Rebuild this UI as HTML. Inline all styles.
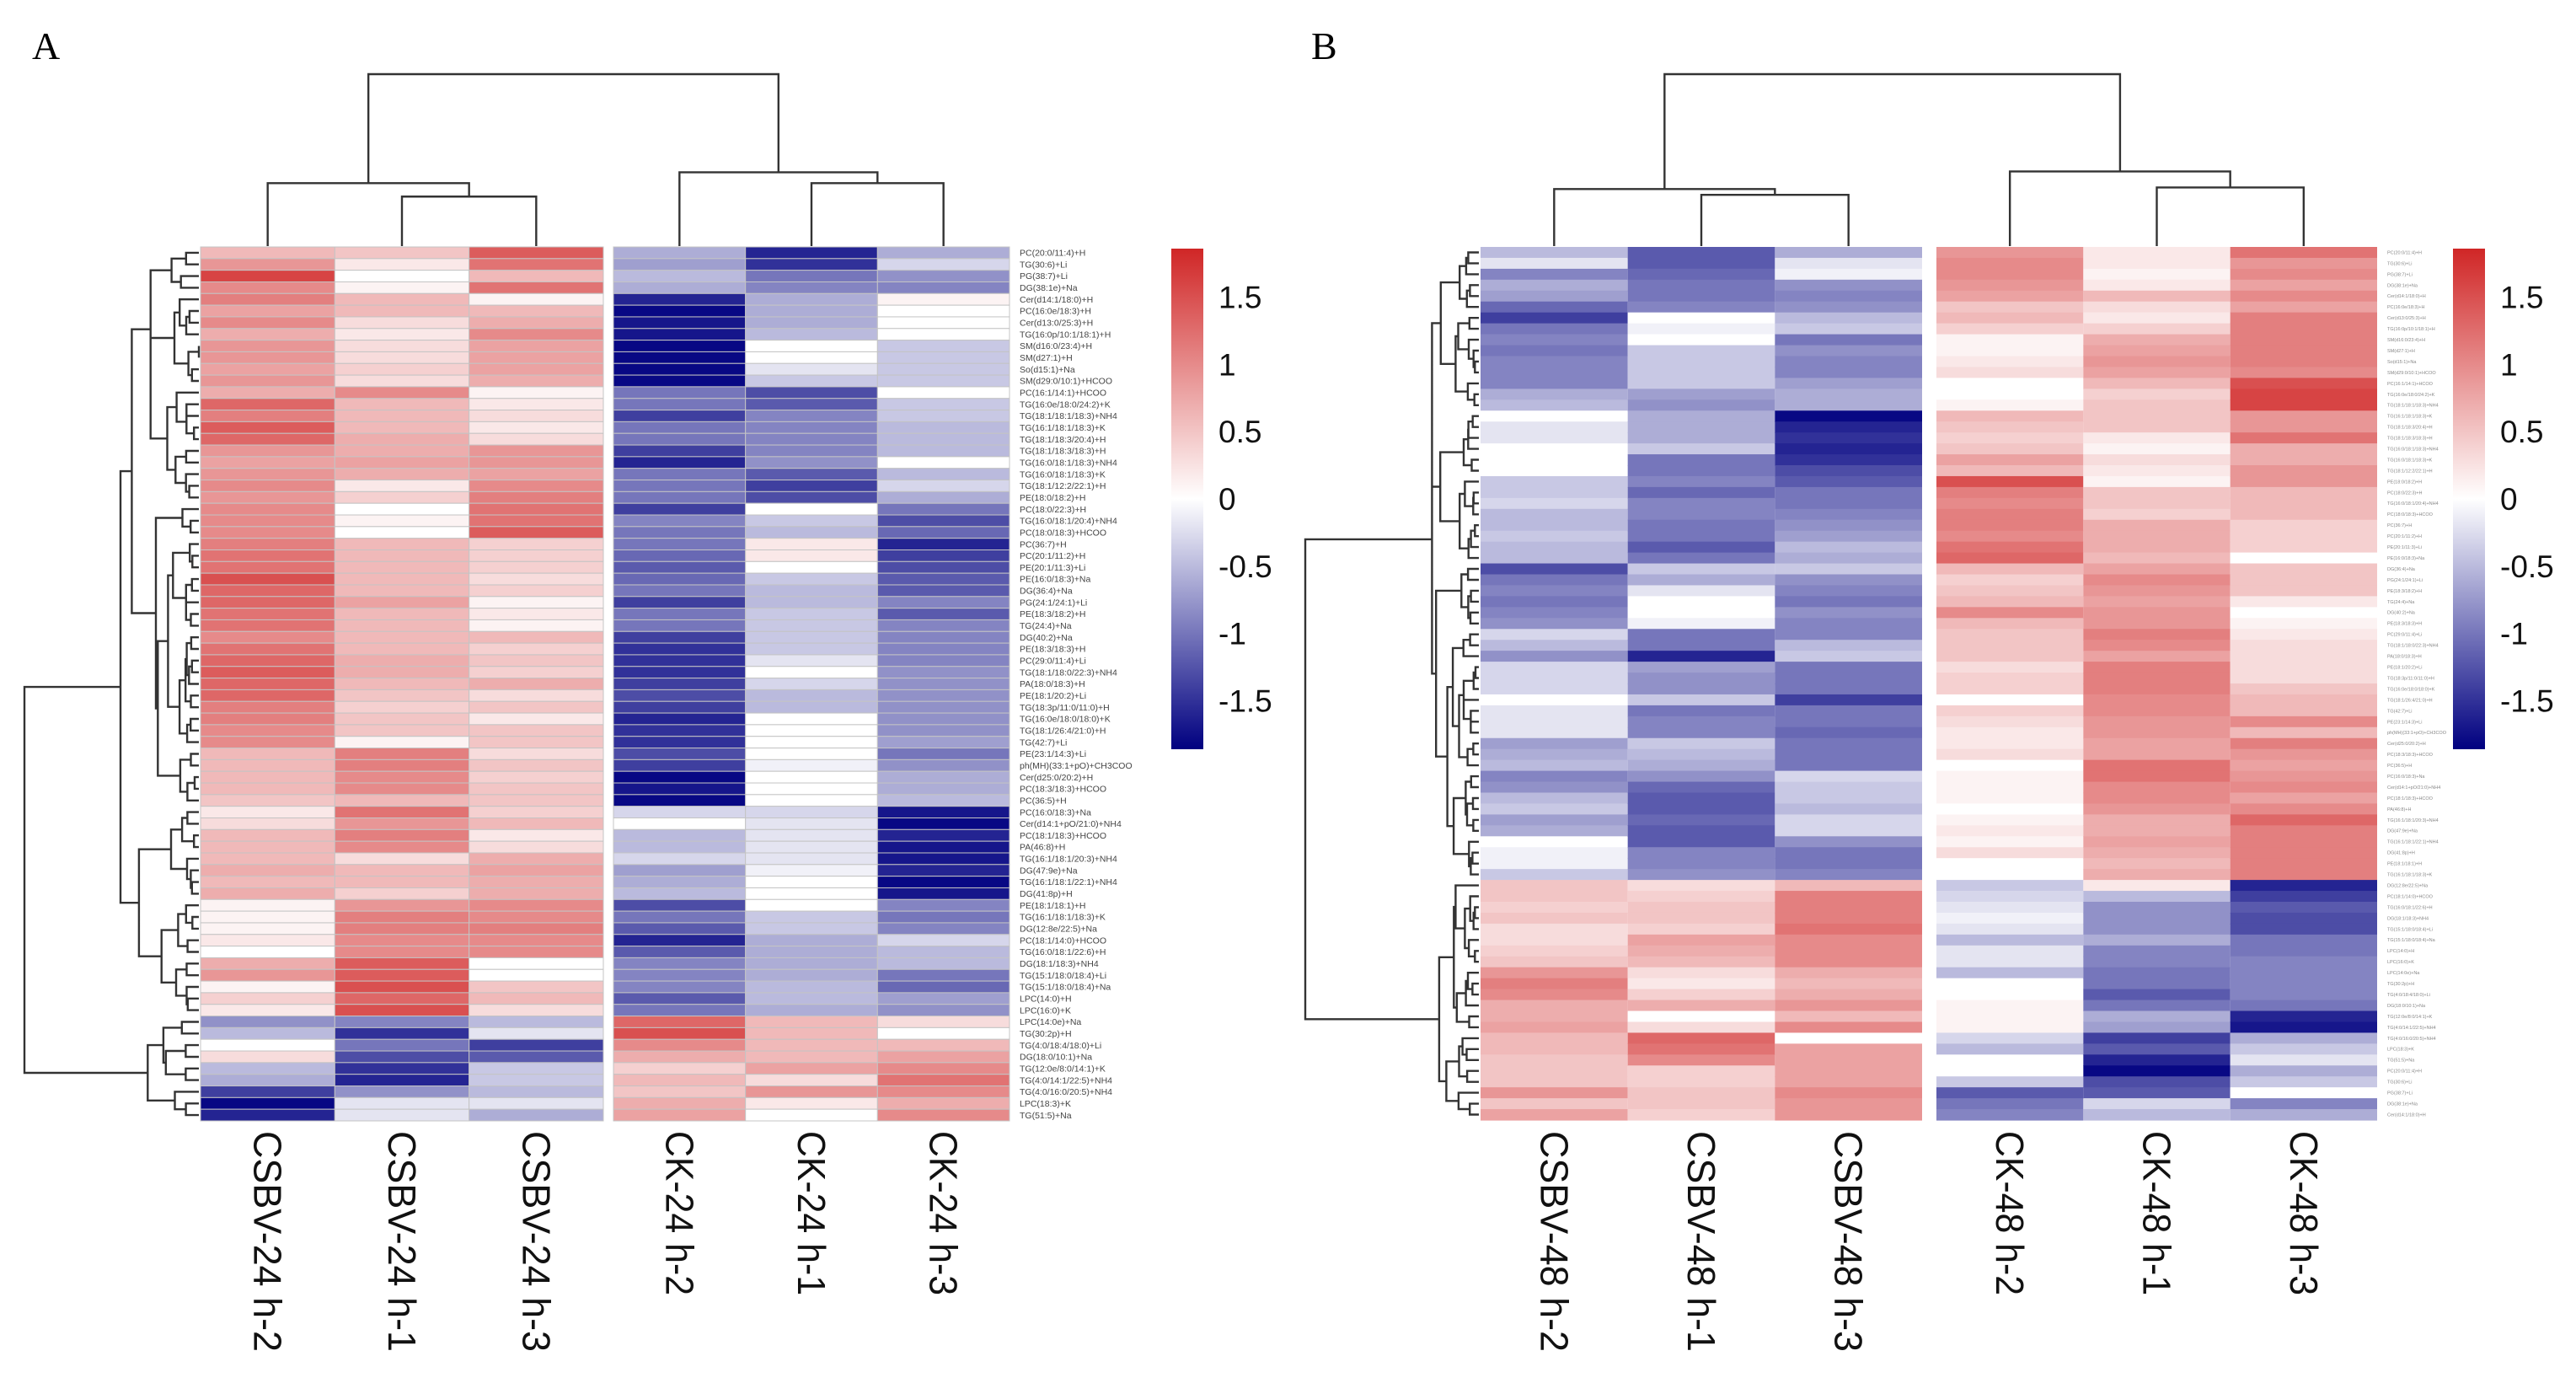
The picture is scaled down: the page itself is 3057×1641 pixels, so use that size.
<!DOCTYPE html>
<html><head><meta charset="utf-8"><style>
html,body{margin:0;padding:0;background:#fff;}
svg{display:block;}
</style></head><body>
<svg id="fig" width="3057" height="1641" viewBox="0 0 3057 1641" xmlns="http://www.w3.org/2000/svg" font-family="Liberation Sans, sans-serif">
<rect x="0" y="0" width="3057" height="1641" fill="#fff"/>
<text x="38" y="70" font-family="Liberation Serif, serif" font-size="46">A</text>
<text x="1556" y="70" font-family="Liberation Serif, serif" font-size="46">B</text>
<g id="pa"></g>
<g id="pb"></g>
</svg>
<script>
// ---------- Panel A data (z-scores, columns in displayed order) ----------
const colsA = ["CSBV-24 h-2","CSBV-24 h-1","CSBV-24 h-3","CK-24 h-2","CK-24 h-1","CK-24 h-3"];
const rowsA = ["PC(20:0/11:4)+H","TG(30:6)+Li","PG(38:7)+Li","DG(38:1e)+Na","Cer(d14:1/18:0)+H","PC(16:0e/18:3)+H","Cer(d13:0/25:3)+H","TG(16:0p/10:1/18:1)+H","SM(d16:0/23:4)+H","SM(d27:1)+H","So(d15:1)+Na","SM(d29:0/10:1)+HCOO","PC(16:1/14:1)+HCOO","TG(16:0e/18:0/24:2)+K","TG(18:1/18:1/18:3)+NH4","TG(16:1/18:1/18:3)+K","TG(18:1/18:3/20:4)+H","TG(18:1/18:3/18:3)+H","TG(16:0/18:1/18:3)+NH4","TG(16:0/18:1/18:3)+K","TG(18:1/12:2/22:1)+H","PE(18:0/18:2)+H","PC(18:0/22:3)+H","TG(16:0/18:1/20:4)+NH4","PC(18:0/18:3)+HCOO","PC(36:7)+H","PC(20:1/11:2)+H","PE(20:1/11:3)+Li","PE(16:0/18:3)+Na","DG(36:4)+Na","PG(24:1/24:1)+Li","PE(18:3/18:2)+H","TG(24:4)+Na","DG(40:2)+Na","PE(18:3/18:3)+H","PC(29:0/11:4)+Li","TG(18:1/18:0/22:3)+NH4","PA(18:0/18:3)+H","PE(18:1/20:2)+Li","TG(18:3p/11:0/11:0)+H","TG(16:0e/18:0/18:0)+K","TG(18:1/26:4/21:0)+H","TG(42:7)+Li","PE(23:1/14:3)+Li","ph(MH)(33:1+pO)+CH3COO","Cer(d25:0/20:2)+H","PC(18:3/18:3)+HCOO","PC(36:5)+H","PC(16:0/18:3)+Na","Cer(d14:1+pO/21:0)+NH4","PC(18:1/18:3)+HCOO","PA(46:8)+H","TG(16:1/18:1/20:3)+NH4","DG(47:9e)+Na","TG(16:1/18:1/22:1)+NH4","DG(41:8p)+H","PE(18:1/18:1)+H","TG(16:1/18:1/18:3)+K","DG(12:8e/22:5)+Na","PC(18:1/14:0)+HCOO","TG(16:0/18:1/22:6)+H","DG(18:1/18:3)+NH4","TG(15:1/18:0/18:4)+Li","TG(15:1/18:0/18:4)+Na","LPC(14:0)+H","LPC(16:0)+K","LPC(14:0e)+Na","TG(30:2p)+H","TG(4:0/18:4/18:0)+Li","DG(18:0/10:1)+Na","TG(12:0e/8:0/14:1)+K","TG(4:0/14:1/22:5)+NH4","TG(4:0/16:0/20:5)+NH4","LPC(18:3)+K","TG(51:5)+Na"];
const a_csbv2 = [0.6,0.9,1.6,1.0,1.1,0.8,1.0,0.7,0.9,0.9,0.8,0.9,0.7,1.3,1.1,1.4,1.3,0.9,0.8,0.9,1.0,0.9,1.0,1.0,1.0,1.1,1.2,1.2,1.5,1.3,1.3,1.2,1.2,1.0,1.2,1.3,1.4,1.3,1.3,1.1,1.1,1.0,1.0,0.6,0.6,0.6,0.6,0.5,0.2,0.3,0.6,0.6,0.6,0.7,0.6,0.7,0.1,0.1,0.1,0.2,0.0,0.7,0.9,0.1,0.4,0.2,-0.8,-0.5,0.0,0.3,-0.5,-0.6,-1.4,-1.8,-1.6];
const a_csbv1 = [0.5,0.2,0.0,0.1,0.6,0.6,0.3,0.2,0.3,0.3,0.4,0.3,1.0,0.6,0.6,0.6,0.7,0.7,0.8,0.7,0.2,0.4,0.0,0.1,0.0,0.6,0.6,0.6,0.6,0.6,0.8,0.6,0.6,0.6,0.6,0.7,0.7,0.6,0.5,0.4,0.5,0.5,0.1,1.1,1.1,1.0,1.0,0.6,1.2,0.9,1.1,1.0,0.3,0.6,0.6,0.4,0.9,1.1,1.1,1.0,1.0,1.4,1.4,1.5,1.3,1.5,-0.9,-1.5,-1.0,-1.3,-1.5,-1.6,-0.8,-0.2,-0.2];
const a_csbv3 = [1.4,1.2,0.6,1.2,0.1,0.6,0.7,1.0,0.8,0.8,0.8,0.7,0.1,0.2,0.3,0.2,0.3,0.9,0.9,0.8,1.0,1.1,1.2,1.2,1.4,0.4,0.4,0.4,0.3,0.4,0.1,0.2,0.1,0.6,0.4,0.5,0.4,0.7,0.3,0.5,0.2,0.5,0.5,0.3,0.5,0.4,0.5,0.5,0.4,0.6,0.2,0.3,0.7,0.8,0.7,0.7,1.0,1.0,1.1,1.0,1.0,0.0,0.0,0.5,0.6,0.3,-0.5,-0.2,-1.4,-1.2,-0.4,-0.4,-0.5,-0.2,-0.6];
const a_ck2 = [-0.6,-0.7,-0.5,-0.6,-1.6,-1.8,-1.7,-1.7,-1.8,-1.8,-1.8,-1.8,-1.0,-1.0,-1.4,-1.0,-1.0,-1.4,-1.6,-1.0,-1.0,-1.0,-1.4,-0.9,-1.0,-1.0,-1.1,-1.2,-1.1,-1.0,-1.4,-1.0,-1.0,-1.4,-1.5,-1.5,-1.5,-1.4,-1.3,-1.4,-1.6,-1.5,-1.5,-1.3,-1.4,-1.8,-1.7,-1.8,-0.3,0.0,-0.5,-0.5,-0.3,-0.7,-0.6,-0.5,-1.3,-1.0,-1.2,-1.6,-1.2,-0.9,-0.9,-0.9,-1.2,-1.0,1.3,1.5,1.0,0.7,0.4,0.6,0.5,0.7,0.8];
const a_ck1 = [-1.6,-1.5,-1.0,-0.9,-0.6,-0.6,-0.6,-0.5,0.0,0.0,-0.2,-0.4,-1.3,-1.2,-0.9,-0.9,-0.9,-0.9,-0.8,-1.2,-1.4,-1.3,0.0,-0.4,-0.5,0.2,0.2,0.0,-0.4,-0.5,-0.5,-0.4,-0.4,-0.4,-0.4,-0.2,0.0,-0.3,-0.5,-0.5,0.0,0.0,0.0,0.0,-0.1,0.0,0.0,0.0,-0.3,-0.2,-0.2,-0.2,-0.2,-0.1,0.0,0.0,0.0,-0.4,-0.4,-0.6,-0.6,-0.6,-0.6,-0.5,-0.5,-0.6,0.6,0.6,0.6,0.6,0.8,0.3,0.9,0.2,0.0];
const a_ck3 = [-0.6,-0.3,-0.8,-0.9,0.1,0.0,0.0,0.0,-0.4,-0.4,-0.4,-0.4,0.0,-0.4,-0.4,-0.5,-0.5,-0.5,0.0,-0.5,-0.3,-0.6,-1.0,-1.3,-1.1,-1.6,-1.4,-1.3,-1.2,-1.2,-0.9,-1.2,-0.9,-0.9,-0.9,-0.9,-0.8,-0.8,-0.8,-0.8,-0.8,-0.8,-0.7,-1.0,-0.8,-0.6,-0.6,-0.5,-1.7,-1.8,-1.6,-1.7,-1.7,-1.6,-1.8,-1.7,-0.9,-1.0,-0.9,-0.3,-0.5,-0.5,-1.0,-1.1,-0.7,-0.8,0.3,0.0,0.6,0.8,1.0,1.2,1.0,0.7,1.0];
// column dendrogram merge heights (relative)
const colTreeA = [0.288, 0.366, 0.366, 0.429, 1.0]; // leftSub, left, rightSub, right, root

// ---------- Panel B data ----------
const colsB = ["CSBV-48 h-2","CSBV-48 h-1","CSBV-48 h-3","CK-48 h-2","CK-48 h-1","CK-48 h-3"];
const b_csbv2 = [-0.5,-0.2,-0.9,-0.6,-0.7,-1.1,-1.4,-1.0,-0.9,-1.0,-0.9,-0.9,-0.9,-0.6,-0.5,0.0,-0.2,-0.2,0.0,0.0,0.0,-0.4,-0.4,-0.3,-0.5,-0.5,-0.4,-0.5,-0.5,-1.3,-1.0,-0.9,-1.0,-0.9,-0.8,-0.3,-0.5,-0.8,-0.3,-0.3,-0.3,0.0,-0.2,-0.2,-0.2,-0.7,-0.6,-0.5,-0.9,-0.8,-0.5,-0.4,-0.7,-0.6,0.0,-0.1,-0.1,-0.4,0.5,0.5,0.4,0.5,0.3,0.3,0.4,0.5,0.9,1.1,1.0,0.7,0.7,0.8,0.6,0.6,0.5,0.5,0.5,0.9,0.5,0.8];
const b_csbv1 = [-1.2,-1.2,-1.1,-1.0,-1.0,-0.9,0.0,-0.1,0.0,-0.4,-0.4,-0.4,-0.4,-0.7,-0.8,-0.6,-0.6,-0.6,-0.4,-1.0,-1.0,-0.9,-1.1,-0.9,-0.9,-1.0,-1.0,-1.2,-1.0,-0.4,-0.6,-0.2,0.0,0.0,-0.1,-1.0,-1.0,-1.6,-0.7,-0.8,-0.8,-0.4,-1.0,-0.9,-0.9,-0.4,-0.5,-0.6,-0.8,-1.1,-1.2,-1.2,-1.1,-1.2,-1.2,-0.9,-0.9,-0.8,0.3,0.4,0.5,0.5,0.4,0.8,0.7,0.6,0.3,0.2,0.4,0.7,0.0,0.3,1.3,1.2,1.0,0.4,0.4,0.5,0.5,0.4];
const b_csbv3 = [-0.6,-0.2,-0.1,-0.8,-0.9,-0.8,-0.5,-0.4,-1.0,-0.8,-0.9,-0.9,-0.7,-0.6,-0.6,-1.8,-1.6,-1.5,-1.6,-1.5,-1.3,-1.2,-1.0,-1.0,-0.9,-0.8,-0.7,-0.5,-0.6,-0.4,-0.8,-0.9,-1.0,-0.8,-0.9,-0.9,-0.5,-0.4,-1.0,-1.0,-1.0,-1.4,-1.0,-1.0,-1.1,-1.0,-1.0,-1.0,-0.3,-0.4,-0.4,-0.5,-0.3,-0.3,-0.8,-1.0,-1.0,-0.9,0.6,1.1,1.1,1.1,1.2,1.0,1.0,1.0,0.7,0.6,0.7,0.9,0.6,1.0,0.0,0.8,0.8,0.8,0.8,1.0,0.9,0.9];
const b_ck2 = [0.9,1.0,1.0,0.9,0.8,0.5,0.6,0.4,0.1,0.1,0.2,0.3,0.0,0.0,0.1,0.6,0.5,0.4,0.5,0.8,0.6,1.5,1.1,1.0,1.1,1.1,1.0,1.2,1.3,0.6,0.4,0.5,0.6,1.0,0.6,0.5,0.5,0.5,0.3,0.4,0.4,0.0,0.4,0.3,0.2,0.2,0.3,0.0,0.1,0.1,0.1,0.0,0.1,0.2,0.1,0.3,0.0,0.0,-0.4,-0.3,-0.2,-0.1,-0.2,-0.5,-0.2,-0.2,-0.5,0.0,0.0,0.1,0.1,0.1,-0.3,-0.5,0.0,0.0,-0.4,-1.2,-1.0,-0.9];
const b_ck1 = [0.2,0.2,0.1,0.2,0.6,0.3,0.2,0.4,0.7,0.8,0.9,0.8,0.6,0.4,0.5,0.5,0.5,0.2,0.1,0.3,0.2,0.1,0.5,0.5,0.4,0.7,0.7,0.7,0.6,0.8,1.0,0.9,0.8,0.9,0.9,1.1,1.0,0.8,1.1,1.1,1.1,1.0,1.0,0.9,0.9,0.8,0.8,1.2,1.2,1.0,1.0,0.9,0.7,0.7,0.8,0.7,0.6,0.7,0.2,-0.5,-0.8,-0.8,-0.8,-0.6,-0.9,-0.9,-1.0,-1.0,-1.2,-1.0,-0.6,-0.7,-1.4,-1.2,-1.6,-1.8,-1.3,-1.2,-0.3,-0.5];
const b_ck3 = [1.2,0.9,1.0,0.8,1.0,0.8,1.1,1.1,1.1,1.1,1.1,1.0,1.5,1.6,1.6,0.9,0.9,1.2,0.7,0.7,0.9,0.9,0.6,0.6,0.6,0.4,0.4,0.4,0.0,0.5,0.5,0.5,0.2,0.0,0.1,0.2,0.3,0.3,0.3,0.3,0.5,0.6,0.6,1.0,0.6,1.1,0.9,0.8,0.9,1.0,0.8,1.0,1.3,1.1,1.1,1.1,1.1,1.1,-1.6,-1.4,-1.2,-1.3,-1.3,-1.0,-1.0,-0.9,-0.9,-0.9,-0.9,-1.0,-1.6,-1.7,-0.6,-0.4,-0.2,-0.6,-0.4,0.0,-0.9,-0.6];
const colTreeB = [0.298, 0.332, 0.341, 0.434, 1.0];
const legendTicks = [1.5, 1, 0.5, 0, -0.5, -1, -1.5];
const legendMax = 1.86;

// ---------- drawing ----------
const NS = "http://www.w3.org/2000/svg";
function mk(tag, attrs, parent){ const e=document.createElementNS(NS,tag); for(const k in attrs) e.setAttribute(k,attrs[k]); parent.appendChild(e); return e; }
const lo=[0,0,128], mid=[255,255,255], hi=[208,38,38];
function color(v){
  let t=Math.max(-1,Math.min(1,v/legendMax));
  const a=t<0?lo:hi, f=Math.abs(t);
  const c=[0,1,2].map(i=>Math.round(mid[i]+(a[i]-mid[i])*f));
  return `rgb(${c[0]},${c[1]},${c[2]})`;
}

function drawPanel(g, cfg){
  const n=cfg.cols[0].length;
  const top=293, bot=cfg.bottom, rh=(bot-top)/n;
  const rowY=i=>top+i*rh;
  // cells
  const cells=mk('g',{},g);
  
  
  const colX=[], colW=[];
  for(let c=0;c<6;c++){
    const blk=c<3?cfg.blocks[0]:cfg.blocks[1];
    const w=(blk[1]-blk[0])/3;
    colX.push(blk[0]+(c%3)*w); colW.push(w);
  }
  for(let c=0;c<6;c++){
    const vals=cfg.cols[c];
    for(let i=0;i<n;i++){
      const r=mk('rect',{x:colX[c].toFixed(2),y:rowY(i).toFixed(2),width:colW[c].toFixed(2),height:(rh+(cfg.grid?0:0.6)).toFixed(2),fill:color(vals[i])},cells);
      if(cfg.grid){ r.setAttribute('stroke','#c4c4c4'); r.setAttribute('stroke-width','1'); }
      
      
    }
  }
  // column labels
  for(let c=0;c<6;c++){
    const cx=colX[c]+colW[c]/2;
    const t=mk('text',{x:0,y:0,'font-size':46,fill:'#111',transform:`translate(${(cx-16).toFixed(1)},${cfg.labelTop}) rotate(90)`,'textLength':cfg.names[c].startsWith('CSBV')?262:195,'lengthAdjust':'spacingAndGlyphs'},g);
    t.textContent=cfg.names[c];
    
    
  }
  // row labels
  const rl=mk('g',{},g);
  
  
  for(let i=0;i<n;i++){
    const t=mk('text',{x:cfg.rowLabelX,y:(rowY(i)+rh/2+cfg.rowFont*0.35).toFixed(1),'font-size':cfg.rowFont,fill:cfg.rowFill},rl);
    t.textContent=cfg.rowNames[i%cfg.rowNames.length];
    
    
  }
  // row dendrogram: adjacent agglomerative clustering on the data
  const dg=mk('g',{stroke:'#333','stroke-width':2.4,fill:'none'},g);
  
  
  let cl=[]; for(let i=0;i<n;i++) cl.push({pos:rowY(i)+rh/2,h:0,size:1,mean:cfg.cols.map(v=>v[i])});
  const merges=[];
  while(cl.length>1){
    let best=-1,bd=Infinity;
    for(let k=0;k<cl.length-1;k++){
      const a=cl[k],b=cl[k+1];
      let d=0; for(let j=0;j<6;j++) d+=(a.mean[j]-b.mean[j])**2;
      d=Math.sqrt(d)*Math.sqrt(a.size*b.size/(a.size+b.size));
      if(d<bd){bd=d;best=k;}
    }
    const a=cl[best],b=cl[best+1];
    const h=Math.max(bd,a.h,b.h);
    const m={pos:(a.pos+b.pos)/2,h:h,size:a.size+b.size,mean:a.mean.map((v,j)=>(v*a.size+b.mean[j]*b.size)/(a.size+b.size))};
    merges.push([a,b,m]);
    cl.splice(best,2,m);
  }
  const maxH=cl[0].h;
  const leafX=cfg.blocks[0][0]-2, rootX=cfg.rootX;
  const hx=h=>leafX-Math.pow(h/maxH,0.8)*(leafX-rootX);
  let d='';
  merges.forEach(([a,b,m])=>{
    const xm=hx(m.h);
    d+=`M${hx(a.h).toFixed(1)},${a.pos.toFixed(1)}H${xm.toFixed(1)}V${b.pos.toFixed(1)}H${hx(b.h).toFixed(1)}`;
  });
  mk('path',{d:d},dg);
  // column dendrogram
  const cg=mk('g',{stroke:'#333','stroke-width':2.4,fill:'none'},g);
  
  
  const leafY=top-1, rootY=88, hy=h=>leafY-h*(leafY-rootY);
  const cxs=colX.map((x,c)=>x+colW[c]/2);
  const T=cfg.tree;
  const ls=(cxs[1]+cxs[2])/2, lt=(cxs[0]+ls)/2, rs=(cxs[4]+cxs[5])/2, rt=(cxs[3]+rs)/2;
  let p='';
  p+=`M${cxs[1]},${leafY}V${hy(T[0])}H${cxs[2]}V${leafY}`;
  p+=`M${cxs[0]},${leafY}V${hy(T[1])}H${ls}V${hy(T[0])}`;
  p+=`M${cxs[4]},${leafY}V${hy(T[2])}H${cxs[5]}V${leafY}`;
  p+=`M${cxs[3]},${leafY}V${hy(T[3])}H${rs}V${hy(T[2])}`;
  p+=`M${lt},${hy(T[1])}V${hy(T[4])}H${rt}V${hy(T[3])}`;
  mk('path',{d:p},cg);
  // color legend
  const lg=mk('g',{},g);
  
  
  const gid=cfg.id+'-grad';
  const defs=mk('defs',{},lg);
  const gr=mk('linearGradient',{id:gid,x1:0,y1:0,x2:0,y2:1},defs);
  [[0,legendMax],[0.5,0],[1,-legendMax]].forEach(([o,v])=>mk('stop',{offset:o,'stop-color':color(v)},gr));
  const ly0=295, ly1=889, lz=v=>(ly0+ly1)/2-v*(ly1-ly0)/2/legendMax;
  const bar=mk('rect',{x:cfg.legendX,y:ly0,width:38,height:ly1-ly0,fill:`url(#${gid})`},lg);
  
  
  legendTicks.forEach(v=>{
    const t=mk('text',{x:cfg.legendX+56,y:(lz(v)+13).toFixed(1),'font-size':37,fill:'#111'},lg);
    t.textContent=String(v);
    
    
  });
}

drawPanel(document.getElementById('pa'),{
  id:'panel-a', cols:[a_csbv2,a_csbv1,a_csbv3,a_ck2,a_ck1,a_ck3], names:colsA,
  blocks:[[238,716],[728,1198]], bottom:1330, grid:true, labelTop:1342,
  rowLabelX:1210, rowFont:10.5, rowFill:'#444', rowNames:rowsA,
  rootX:29, tree:colTreeA, legendX:1390
});
drawPanel(document.getElementById('pb'),{
  id:'panel-b', cols:[b_csbv2,b_csbv1,b_csbv3,b_ck2,b_ck1,b_ck3], names:colsB,
  blocks:[[1757,2281],[2298,2821]], bottom:1329, grid:false, labelTop:1342,
  rowLabelX:2833, rowFont:5.5, rowFill:'#888', rowNames:rowsA,
  rootX:1549, tree:colTreeB, legendX:2911
});
</script>
</body></html>
